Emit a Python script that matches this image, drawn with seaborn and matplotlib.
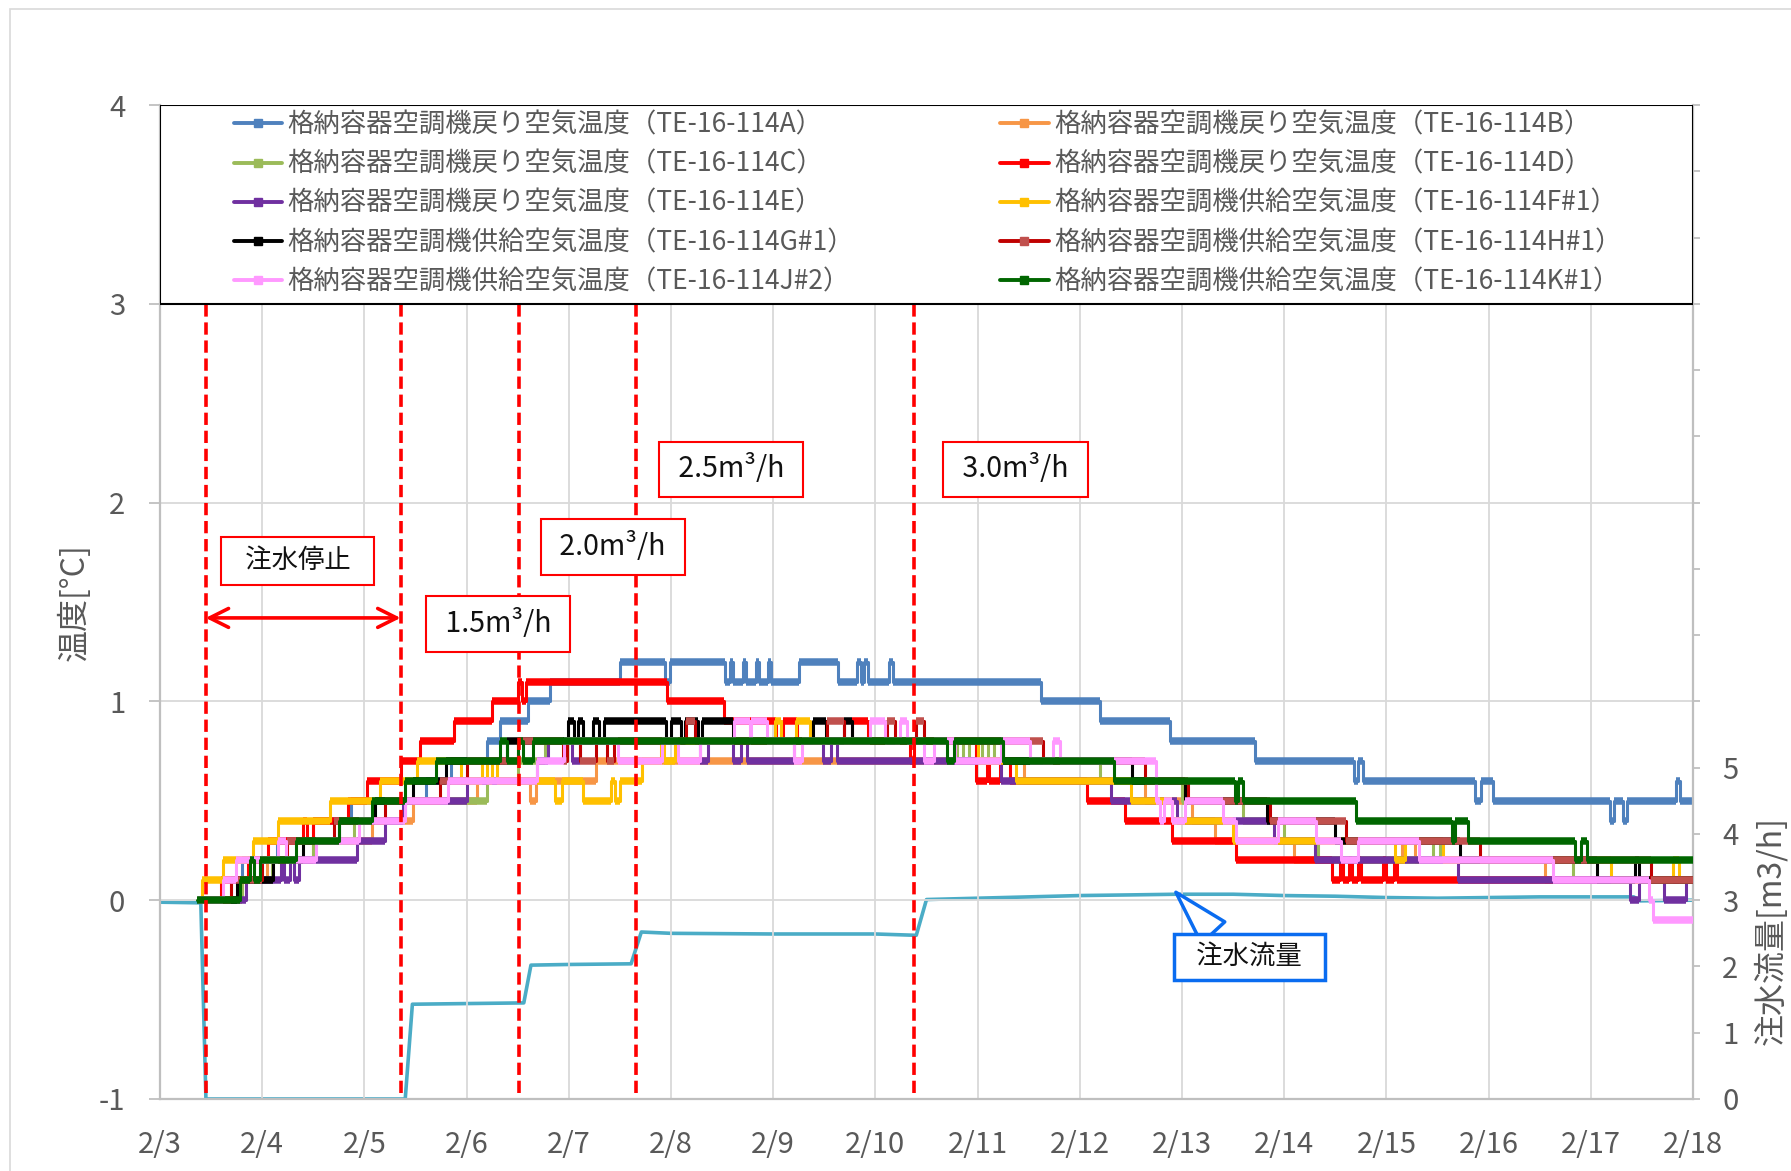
import numpy as np
import pandas as pd
import matplotlib
matplotlib.use('Agg')
import matplotlib.pyplot as plt
from matplotlib.lines import Line2D
from matplotlib.patches import Rectangle
import seaborn as sns

# x axis: days counted from 2/3 0:00
day_labels = ['2/3', '2/4', '2/5', '2/6', '2/7', '2/8', '2/9', '2/10', '2/11',
              '2/12', '2/13', '2/14', '2/15', '2/16', '2/17', '2/18']
flow_tick_labels = ['0', '1', '2', '3', '4', '5'] + [''] * 10

# temperature series: time of each step change [day] and value from then on [degC]
A_t = [0.37, 0.70, 0.80, 1.15, 1.50, 1.87, 2.60, 2.85, 3.20, 3.33, 3.60, 3.82, 4.50, 4.94, 4.99, 5.53,
       5.58, 5.61, 5.70, 5.73, 5.83, 5.86, 5.95, 5.98, 6.25, 6.63, 6.82, 6.86, 6.89, 6.93, 7.13, 7.17,
       8.62, 9.20, 9.88, 10.71, 11.68, 11.72, 11.77, 12.87, 12.93, 13.04, 14.19, 14.23, 14.31, 14.35,
       14.83, 14.87, 15.00]
A_v = [0.0, 0.1, 0.2, 0.3, 0.4, 0.5, 0.6, 0.7, 0.8, 0.9, 1.0, 1.1, 1.2, 1.1, 1.2, 1.1,
       1.2, 1.1, 1.2, 1.1, 1.2, 1.1, 1.2, 1.1, 1.2, 1.1, 1.2, 1.1, 1.2, 1.1, 1.2, 1.1,
       1.0, 0.9, 0.8, 0.7, 0.6, 0.7, 0.6, 0.5, 0.6, 0.5, 0.4, 0.5, 0.4, 0.5,
       0.6, 0.5, 0.5]

B_t = [0.37, 0.80, 1.05, 1.50, 2.07, 2.48, 3.10, 3.62, 3.68, 4.27, 8.45, 9.64, 10.10, 10.32,
       11.10, 12.15, 12.28, 13.55, 15.00]
B_v = [0.0, 0.1, 0.2, 0.3, 0.4, 0.5, 0.6, 0.5, 0.6, 0.7, 0.6, 0.5, 0.4, 0.3,
       0.2, 0.3, 0.2, 0.1, 0.1]

C_t = [0.37, 0.80, 1.10, 1.50, 1.90, 2.40, 3.20, 3.50, 3.77, 7.80, 7.86, 7.92, 7.98, 8.04, 8.10,
       8.16, 9.20, 10.00, 10.60, 11.00, 11.33, 12.46, 12.52, 13.83, 15.00]
C_v = [0.0, 0.1, 0.2, 0.3, 0.4, 0.5, 0.6, 0.7, 0.8, 0.7, 0.8, 0.7, 0.8, 0.7, 0.8,
       0.7, 0.6, 0.5, 0.4, 0.3, 0.2, 0.3, 0.2, 0.1, 0.1]

D_t = [0.37, 0.60, 0.86, 1.06, 1.40, 1.44, 1.50, 1.84, 2.03, 2.36, 2.54, 2.88, 3.25, 3.50, 3.54,
       3.58, 4.96, 5.52, 6.03, 6.10, 6.23, 6.77, 6.93, 7.34, 7.38, 7.98, 8.09, 8.11, 8.22, 8.32,
       9.07, 9.44, 9.90, 10.53, 11.47, 11.55, 11.58, 11.63, 11.66, 11.72, 11.75, 11.97, 12.00,
       12.07, 12.10, 15.00]
D_v = [0.0, 0.1, 0.2, 0.3, 0.4, 0.3, 0.4, 0.5, 0.6, 0.7, 0.8, 0.9, 1.0, 1.1, 1.0,
       1.1, 1.0, 0.9, 0.8, 0.9, 0.8, 0.9, 0.8, 0.7, 0.8, 0.6, 0.7, 0.6, 0.7, 0.6,
       0.5, 0.4, 0.3, 0.2, 0.1, 0.2, 0.1, 0.2, 0.1, 0.2, 0.1, 0.2, 0.1,
       0.2, 0.1, 0.1]

E_t = [0.37, 0.84, 1.18, 1.21, 1.27, 1.31, 1.36, 1.93, 2.20, 2.38, 3.00, 3.69, 3.80, 4.03, 4.11,
       5.28, 5.36, 5.61, 5.69, 5.74, 6.20, 6.49, 6.57, 6.62, 8.23, 9.31, 9.95, 10.90, 11.30, 12.70,
       14.38, 14.47, 14.72, 14.93, 15.00]
E_v = [0.0, 0.1, 0.2, 0.1, 0.2, 0.1, 0.2, 0.3, 0.4, 0.5, 0.6, 0.7, 0.8, 0.7, 0.8,
       0.7, 0.8, 0.7, 0.8, 0.7, 0.8, 0.7, 0.8, 0.7, 0.6, 0.5, 0.4, 0.3, 0.2, 0.1,
       0.0, 0.1, 0.0, 0.1, 0.1]

F_t = [0.37, 0.41, 0.62, 0.91, 1.16, 1.66, 2.15, 2.52, 2.95, 3.15, 3.20, 3.25, 3.30, 3.87, 3.93,
       4.14, 4.41, 4.45, 4.50, 4.72, 4.90, 4.93, 5.04, 6.02, 6.08, 6.22, 6.36, 8.00, 8.38, 9.50,
       9.90, 10.50, 12.08, 12.18, 12.55, 14.20, 14.80, 14.86, 15.00]
F_v = [0.0, 0.1, 0.2, 0.3, 0.4, 0.5, 0.6, 0.7, 0.6, 0.7, 0.6, 0.7, 0.6, 0.5, 0.6,
       0.5, 0.6, 0.5, 0.6, 0.7, 0.8, 0.7, 0.8, 0.9, 0.8, 0.9, 0.8, 0.7, 0.6, 0.5,
       0.4, 0.3, 0.2, 0.3, 0.2, 0.1, 0.2, 0.1, 0.1]

G_t = [0.37, 0.75, 1.11, 1.40, 1.75, 2.10, 2.48, 2.80, 3.40, 3.99, 4.05, 4.09, 4.14, 4.24, 4.30,
       4.34, 4.95, 5.00, 5.10, 5.14, 5.26, 5.30, 5.61, 6.39, 6.52, 6.69, 6.77, 8.25, 9.51, 10.03,
       10.83, 11.50, 12.72, 14.06, 14.43, 14.47, 15.00]
G_v = [0.0, 0.1, 0.2, 0.3, 0.4, 0.5, 0.6, 0.7, 0.8, 0.9, 0.8, 0.9, 0.8, 0.9, 0.8,
       0.9, 0.8, 0.9, 0.8, 0.9, 0.8, 0.9, 0.8, 0.9, 0.8, 0.9, 0.8, 0.7, 0.6, 0.5,
       0.4, 0.3, 0.2, 0.1, 0.2, 0.1, 0.1]

H_t = [0.37, 0.70, 1.00, 1.24, 1.70, 2.20, 2.74, 3.00, 3.50, 3.94, 3.98, 4.11, 4.27, 4.37, 4.44,
       5.15, 5.24, 6.53, 6.69, 7.11, 7.19, 7.40, 7.48, 8.64, 9.64, 10.06, 10.86, 11.60, 12.92,
       14.59, 15.00]
H_v = [0.0, 0.1, 0.2, 0.3, 0.4, 0.5, 0.6, 0.7, 0.8, 0.7, 0.8, 0.7, 0.8, 0.7, 0.8,
       0.9, 0.8, 0.9, 0.8, 0.9, 0.8, 0.9, 0.8, 0.7, 0.6, 0.5, 0.4, 0.3, 0.2,
       0.1, 0.1]

J_t = [0.37, 0.62, 0.74, 1.16, 1.23, 1.53, 1.95, 2.40, 2.82, 3.69, 3.95, 4.48, 4.91, 5.07, 5.28,
       5.62, 5.77, 5.78, 5.94, 6.20, 6.28, 6.95, 7.09, 7.24, 7.31, 7.48, 7.57, 7.78, 8.23, 8.51,
       8.74, 8.81, 9.75, 9.78, 9.82, 9.90, 10.03, 10.40, 10.53, 10.94, 11.31, 11.56, 11.72, 12.32,
       13.63, 14.57, 14.61, 15.00]
J_v = [0.0, 0.1, 0.2, 0.3, 0.2, 0.3, 0.4, 0.5, 0.6, 0.7, 0.8, 0.7, 0.8, 0.7, 0.8,
       0.9, 0.8, 0.9, 0.8, 0.7, 0.8, 0.9, 0.8, 0.9, 0.8, 0.7, 0.8, 0.7, 0.8, 0.7,
       0.8, 0.7, 0.5, 0.4, 0.5, 0.4, 0.5, 0.4, 0.3, 0.4, 0.3, 0.2, 0.3, 0.2,
       0.1, 0.0, -0.1, -0.1]

K_t = [0.365, 0.78, 0.88, 0.92, 0.98, 1.33, 1.75, 2.07, 2.40, 2.70, 3.33, 3.40, 3.50, 3.55, 3.65,
       7.70, 7.77, 8.25, 9.33, 10.52, 10.55, 10.60, 11.70, 12.64, 12.67, 12.80, 13.85, 13.90,
       13.96, 15.00]
K_v = [0.0, 0.1, 0.2, 0.1, 0.2, 0.3, 0.4, 0.5, 0.6, 0.7, 0.8, 0.7, 0.8, 0.7, 0.8,
       0.7, 0.8, 0.7, 0.6, 0.5, 0.6, 0.5, 0.4, 0.3, 0.4, 0.3, 0.2, 0.3,
       0.2, 0.2]

# injection flow rate [m3/h] (right axis)
flow_t = [0.00, 0.40, 0.45, 2.40, 2.47, 3.00, 3.56, 3.63, 4.00, 4.61, 4.71, 5.00, 6.00, 7.00, 7.40,
          7.50, 8.00, 8.50, 9.00, 9.50, 9.95, 10.50, 11.00, 11.50, 12.00, 12.50, 13.00, 13.50,
          14.00, 14.42, 14.48, 15.00]
flow_v = [2.97, 2.96, 0.00, 0.00, 1.43, 1.44, 1.45, 2.02, 2.03, 2.04, 2.52, 2.50, 2.49, 2.49, 2.47,
          3.01, 3.03, 3.05, 3.07, 3.08, 3.09, 3.09, 3.07, 3.06, 3.04, 3.03, 3.04, 3.05,
          3.05, 3.05, 2.99, 3.00]

series_labels = [
    '格納容器空調機戻り空気温度（TE-16-114A）',
    '格納容器空調機戻り空気温度（TE-16-114B）',
    '格納容器空調機戻り空気温度（TE-16-114C）',
    '格納容器空調機戻り空気温度（TE-16-114D）',
    '格納容器空調機戻り空気温度（TE-16-114E）',
    '格納容器空調機供給空気温度（TE-16-114F#1）',
    '格納容器空調機供給空気温度（TE-16-114G#1）',
    '格納容器空調機供給空気温度（TE-16-114H#1）',
    '格納容器空調機供給空気温度（TE-16-114J#2）',
    '格納容器空調機供給空気温度（TE-16-114K#1）',
]
series_t = [A_t, B_t, C_t, D_t, E_t, F_t, G_t, H_t, J_t, K_t]
series_v = [A_v, B_v, C_v, D_v, E_v, F_v, G_v, H_v, J_v, K_v]
line_colors = ['#4F81BD', '#F79646', '#9BBB59', '#FF0000', '#7030A0',
               '#FFC000', '#000000', '#C00000', '#FF99FF', '#006600']
marker_colors = ['#4F81BD', '#F79646', '#9BBB59', '#FF0000', '#7030A0',
                 '#FFC000', '#000000', '#C0504D', '#FF99FF', '#006600']

# annotations
event_days = [0.447, 2.355, 3.51, 4.66, 7.38]
rate_boxes = [('1.5m³/h', 3.31, 1.39), ('2.0m³/h', 4.43, 1.776),
              ('2.5m³/h', 5.59, 2.167), ('3.0m³/h', 8.37, 2.167)]

sns.set_theme(style='white')
plt.rcParams['font.family'] = ['Noto Sans CJK JP', 'DejaVu Sans']
plt.rcParams['axes.unicode_minus'] = False

grey_text = '#595959'
axis_grey = '#BFBFBF'

fig = plt.figure(figsize=(17.91, 11.71), dpi=100)
ax = fig.add_axes([0.0893, 0.0615, 0.8560, 0.8488])
ax2 = ax.twinx()
ax.set_zorder(ax2.get_zorder() + 1)
ax.patch.set_visible(False)

# flow line on secondary axis
flow_df = pd.DataFrame({'t': flow_t, 'q': flow_v})
sns.lineplot(data=flow_df, x='t', y='q', ax=ax2, color='#4BACC6', lw=2.6,
             estimator=None, sort=False)

# temperature series: thin risers + thick plateaus
for i in range(len(series_t)):
    t = np.array(series_t[i])
    v = np.array(series_v[i])
    df = pd.DataFrame({'t': t, 'v': v})
    sns.lineplot(data=df, x='t', y='v', ax=ax, color=line_colors[i], lw=2.2,
                 drawstyle='steps-post', estimator=None, sort=False, zorder=2 + i * 0.1)
    ax.hlines(v[:-1], t[:-1], t[1:], colors=marker_colors[i], lw=5.4,
              zorder=2.05 + i * 0.1)

# axes styling
ax.set_xlim(0, 15)
ax.set_ylim(-1, 4)
ax.set_xticks(range(16))
ax.set_xticklabels(day_labels)
ax.set_yticks(range(-1, 5))
ax.set_xlabel('')
ax.set_ylabel('')
ax.grid(True, color='#D9D9D9', lw=1.3)
ax.tick_params(axis='x', length=0, pad=22, labelsize=21, labelcolor=grey_text)
ax.tick_params(axis='y', left=True, length=8, width=1.3, color=axis_grey, pad=17,
               labelsize=21, labelcolor=grey_text)
for side in ['left', 'bottom', 'right']:
    ax.spines[side].set_color(axis_grey)
    ax.spines[side].set_linewidth(1.6)
ax.spines['top'].set_visible(False)

ax2.set_ylim(0, 15)
ax2.set_yticks(range(16))
ax2.set_yticklabels(flow_tick_labels)
ax2.set_ylabel('')
ax2.tick_params(axis='y', right=True, length=5, width=1.3, color=axis_grey, pad=16,
                labelsize=21, labelcolor=grey_text)
for side in ax2.spines:
    ax2.spines[side].set_visible(False)

fig.text(0.0413, 0.486, '温度[°C]', rotation=90, ha='center', va='center',
         fontsize=23, color=grey_text)
fig.text(0.9885, 0.205, '注水流量[m3/h]', rotation=90, ha='center', va='center',
         fontsize=23, color=grey_text)

# event markers
ax.vlines(event_days, -0.97, 3.0, colors='#FF0000', lw=2.6,
          linestyles=(0, (3.4, 1.6)), zorder=4)
ax.annotate('', xy=(event_days[0], 1.42), xytext=(event_days[1], 1.42),
            arrowprops=dict(arrowstyle='<->', color='#FF0000', lw=2.6,
                            mutation_scale=34, shrinkA=0, shrinkB=0), zorder=4)
ax.text(1.347, 1.707, '\u2002注水停止\u2002', ha='center', va='center', fontsize=19,
        color='#111111', zorder=6,
        bbox=dict(boxstyle='square,pad=0.4', fc='white', ec='#FF0000', lw=1.5))
for txt, x, y in rate_boxes:
    ax.text(x, y, ' ' + txt + ' ', ha='center', va='center', fontsize=20.5,
            color='#111111', zorder=6,
            bbox=dict(boxstyle='square,pad=0.45', fc='white', ec='#FF0000', lw=1.5))

ax.annotate('\u2002注水流量\u2002', xy=(9.94, 0.04), xytext=(10.66, -0.285),
            ha='center', va='center', fontsize=19, color='#111111', zorder=6,
            bbox=dict(boxstyle='square,pad=0.36', fc='white', ec='#0A6CF0', lw=2.5),
            arrowprops=dict(arrowstyle='wedge,tail_width=1.2', fc='white', ec='#0A6CF0',
                            lw=2.5, relpos=(0.3, 1.0), shrinkA=0, shrinkB=0))

# legend box
ax.add_patch(Rectangle((0, 0.8), 1, 0.2, transform=ax.transAxes, fc='white',
                       ec='black', lw=1.5, zorder=4.6))
handles = [Line2D([], [], color=line_colors[i], lw=2.8, marker='s', markersize=6,
                  markerfacecolor=marker_colors[i], markeredgecolor=marker_colors[i])
           for i in range(len(series_labels))]
leg_kw = dict(frameon=False, fontsize=19, labelcolor=grey_text, handlelength=1.85,
              handletextpad=0.2, labelspacing=0.46, borderpad=0, borderaxespad=0,
              loc='center left')
leg1 = ax.legend(handles=handles[0::2], labels=series_labels[0::2],
                 bbox_to_anchor=(0.048, 0.901), **leg_kw)
leg1.set_zorder(5)
ax.add_artist(leg1)
leg2 = ax.legend(handles=handles[1::2], labels=series_labels[1::2],
                 bbox_to_anchor=(0.548, 0.901), **leg_kw)
leg2.set_zorder(5)

# chart area border
fig.patches.append(Rectangle((10 / 1791, -0.1), 1.2, 0.1 + 1162 / 1171,
                             transform=fig.transFigure, fill=False, ec='#D9D9D9', lw=1.2))

fig.savefig('out.png', dpi=100)
